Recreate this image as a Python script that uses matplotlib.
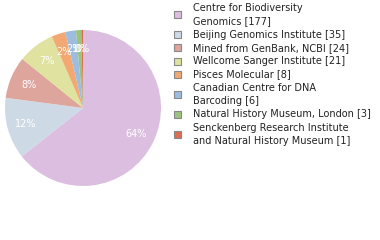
import math
import matplotlib
matplotlib.use("Agg")
import matplotlib.pyplot as plt
from matplotlib.patches import Rectangle

labels = ["Centre for Biodiversity\nGenomics [177]",
          "Beijing Genomics Institute [35]",
          "Mined from GenBank, NCBI [24]",
          "Wellcome Sanger Institute [21]",
          "Pisces Molecular [8]",
          "Canadian Centre for DNA\nBarcoding [6]",
          "Natural History Museum, London [3]",
          "Senckenberg Research Institute\nand Natural History Museum [1]"]
counts = [177, 35, 24, 21, 8, 6, 3, 1]
colors = ["#dcbfe0", "#cddae6", "#dea59c", "#dfe39f",
          "#f1a872", "#9cbce0", "#9ac47e", "#e06c55"]

W, H = 380, 240
fig = plt.figure(figsize=(W / 100, H / 100), dpi=100)

# pie: centre ~ (83,108) px, radius ~78 px
cx, cy, r = 83, 108, 78
ax = fig.add_axes([(cx - r) / W, (H - cy - r) / H, 2 * r / W, 2 * r / H])
total = sum(counts)
wedges, texts, autotexts = ax.pie(
    counts, colors=colors, startangle=90, counterclock=False,
    autopct=lambda p: "%d%%" % math.floor(p + 1e-9), pctdistance=0.76,
    wedgeprops=dict(linewidth=0),
    textprops=dict(color="white", fontsize=7))
ax.set_aspect("equal")
ax.set_xlim(-1, 1)
ax.set_ylim(-1, 1)

# legend drawn by hand
line_h = 13.3
y = 8.0
for lab, col in zip(labels, colors):
    n = lab.count("\n") + 1
    ymid = y + (n - 1) * line_h / 2
    sq = 7
    fig.patches.append(Rectangle(((174) / W, (H - ymid - sq / 2) / H), sq / W, sq / H,
                                 transform=fig.transFigure, facecolor=col,
                                 edgecolor="#888888", linewidth=0.8))
    for i, part in enumerate(lab.split("\n")):
        fig.text(193 / W, (H - (y + i * line_h)) / H, part, fontsize=7,
                 va="center", ha="left", color="#222222")
    y += n * line_h

fig.savefig("out.png", dpi=100)
